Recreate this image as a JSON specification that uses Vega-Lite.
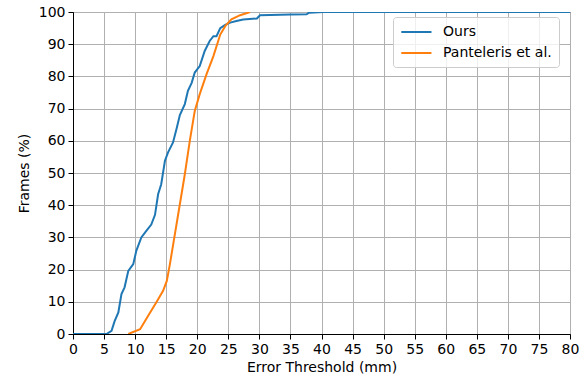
{
  "$schema": "https://vega.github.io/schema/vega-lite/v6.json",
  "width": 497,
  "height": 322,
  "autosize": {"type": "none"},
  "padding": {"left": 73, "top": 12, "right": 17, "bottom": 45},
  "background": "white",
  "config": {
    "font": "DejaVu Sans",
    "view": {"stroke": "black", "strokeWidth": 1},
    "axis": {
      "labelFont": "DejaVu Sans",
      "titleFont": "DejaVu Sans",
      "labelFontSize": 14,
      "titleFontSize": 14,
      "titleFontWeight": "normal",
      "labelColor": "black",
      "titleColor": "black",
      "domainColor": "black",
      "tickColor": "black",
      "tickSize": 5,
      "gridColor": "#b0b0b0",
      "gridWidth": 1,
      "labelPadding": 3,
      "labelFlush": false,
      "labelOverlap": false
    }
  },
  "data": {
    "values": [
      {"x": 0, "y": 0, "s": "Ours"},
      {"x": 5.4, "y": 0, "s": "Ours"},
      {"x": 6.2, "y": 1, "s": "Ours"},
      {"x": 6.7, "y": 4, "s": "Ours"},
      {"x": 7.3, "y": 6.7, "s": "Ours"},
      {"x": 7.8, "y": 12.4, "s": "Ours"},
      {"x": 8.3, "y": 14.5, "s": "Ours"},
      {"x": 8.9, "y": 19.6, "s": "Ours"},
      {"x": 9.7, "y": 21.7, "s": "Ours"},
      {"x": 10.2, "y": 25.9, "s": "Ours"},
      {"x": 11.0, "y": 30, "s": "Ours"},
      {"x": 11.8, "y": 32, "s": "Ours"},
      {"x": 12.6, "y": 34, "s": "Ours"},
      {"x": 13.2, "y": 37, "s": "Ours"},
      {"x": 13.7, "y": 43.4, "s": "Ours"},
      {"x": 14.2, "y": 46.5, "s": "Ours"},
      {"x": 14.8, "y": 53.8, "s": "Ours"},
      {"x": 15.3, "y": 56.4, "s": "Ours"},
      {"x": 16.1, "y": 59.5, "s": "Ours"},
      {"x": 16.7, "y": 64, "s": "Ours"},
      {"x": 17.2, "y": 68, "s": "Ours"},
      {"x": 18.0, "y": 71.4, "s": "Ours"},
      {"x": 18.5, "y": 75.5, "s": "Ours"},
      {"x": 19.1, "y": 78, "s": "Ours"},
      {"x": 19.6, "y": 81.2, "s": "Ours"},
      {"x": 20.4, "y": 83.2, "s": "Ours"},
      {"x": 21.2, "y": 87.9, "s": "Ours"},
      {"x": 22.0, "y": 91, "s": "Ours"},
      {"x": 22.6, "y": 92.5, "s": "Ours"},
      {"x": 23.1, "y": 92.5, "s": "Ours"},
      {"x": 23.7, "y": 95, "s": "Ours"},
      {"x": 24.5, "y": 96, "s": "Ours"},
      {"x": 25.3, "y": 96.7, "s": "Ours"},
      {"x": 26.3, "y": 97.2, "s": "Ours"},
      {"x": 27.4, "y": 97.7, "s": "Ours"},
      {"x": 29.6, "y": 98, "s": "Ours"},
      {"x": 30.1, "y": 99, "s": "Ours"},
      {"x": 35, "y": 99.2, "s": "Ours"},
      {"x": 37.6, "y": 99.3, "s": "Ours"},
      {"x": 38, "y": 99.8, "s": "Ours"},
      {"x": 40.3, "y": 100, "s": "Ours"},
      {"x": 80, "y": 100, "s": "Ours"},
      {"x": 8.9, "y": 0, "s": "Panteleris et al."},
      {"x": 10.8, "y": 1.5, "s": "Panteleris et al."},
      {"x": 12.1, "y": 5.7, "s": "Panteleris et al."},
      {"x": 13.4, "y": 9.8, "s": "Panteleris et al."},
      {"x": 14.5, "y": 13.4, "s": "Panteleris et al."},
      {"x": 15.1, "y": 16.5, "s": "Panteleris et al."},
      {"x": 15.6, "y": 21.7, "s": "Panteleris et al."},
      {"x": 16.4, "y": 31, "s": "Panteleris et al."},
      {"x": 17.2, "y": 40.3, "s": "Panteleris et al."},
      {"x": 18.0, "y": 49.6, "s": "Panteleris et al."},
      {"x": 18.8, "y": 60, "s": "Panteleris et al."},
      {"x": 19.6, "y": 69.3, "s": "Panteleris et al."},
      {"x": 20.4, "y": 74.5, "s": "Panteleris et al."},
      {"x": 21.5, "y": 80.7, "s": "Panteleris et al."},
      {"x": 22.6, "y": 86.3, "s": "Panteleris et al."},
      {"x": 23.7, "y": 93, "s": "Panteleris et al."},
      {"x": 24.5, "y": 95.6, "s": "Panteleris et al."},
      {"x": 25.5, "y": 97.7, "s": "Panteleris et al."},
      {"x": 26.9, "y": 99, "s": "Panteleris et al."},
      {"x": 28.5, "y": 100, "s": "Panteleris et al."}
    ]
  },
  "mark": {"type": "line", "strokeWidth": 2, "clip": true},
  "encoding": {
    "x": {
      "field": "x", "type": "quantitative",
      "scale": {"domain": [0, 80], "nice": false},
      "axis": {"values": [0,5,10,15,20,25,30,35,40,45,50,55,60,65,70,75,80], "title": "Error Threshold (mm)", "titlePadding": 4}
    },
    "y": {
      "field": "y", "type": "quantitative",
      "scale": {"domain": [0, 100], "nice": false},
      "axis": {"values": [0,10,20,30,40,50,60,70,80,90,100], "title": "Frames (%)", "titlePadding": 7}
    },
    "color": {
      "field": "s", "type": "nominal",
      "scale": {"domain": ["Ours", "Panteleris et al."], "range": ["#1f77b4", "#ff7f0e"]},
      "legend": {
        "title": null,
        "orient": "none",
        "legendX": 320,
        "legendY": 5,
        "symbolType": "M-1,0H3.5",
        "symbolSize": 180,
        "symbolStrokeWidth": 2,
        "labelFontSize": 14,
        "labelFont": "DejaVu Sans",
        "labelColor": "black",
        "strokeColor": "#cccccc",
        "fillColor": "rgba(255,255,255,0.8)",
        "cornerRadius": 3,
        "padding": 7,
        "rowPadding": 6,
        "labelOffset": 27
      }
    }
  }
}
